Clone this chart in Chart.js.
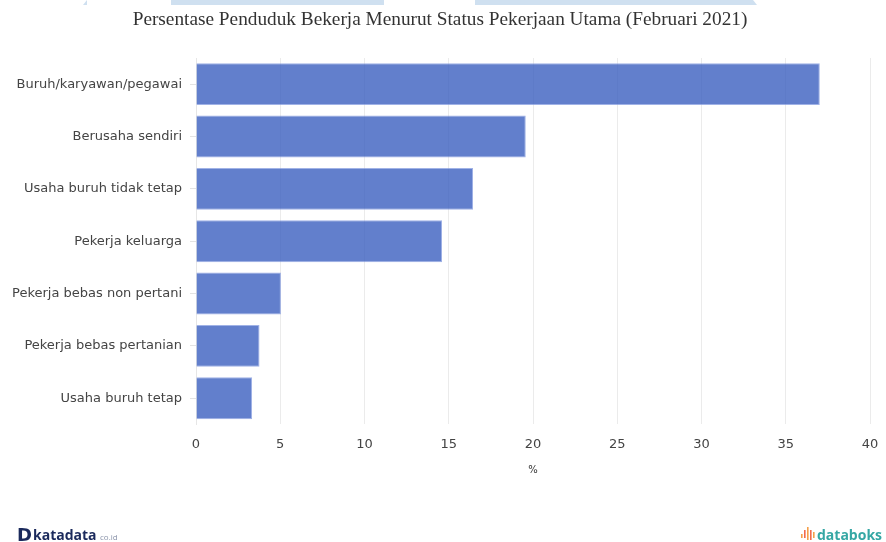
<!DOCTYPE html>
<html>
<head>
<meta charset="utf-8">
<script src="https://cdn.jsdelivr.net/npm/chart.js@4"></script>
<style>
  html, body { margin: 0; padding: 0; background: #fff; }
  #wrap { width: 886px; height: 542px; position: relative; }
</style>
</head>
<body>
<div id="wrap"><canvas id="c" width="886" height="542"></canvas></div>
<script>
const categories = [
  "Buruh/karyawan/pegawai",
  "Berusaha sendiri",
  "Usaha buruh tidak tetap",
  "Pekerja keluarga",
  "Pekerja bebas non pertani",
  "Pekerja bebas pertanian",
  "Usaha buruh tetap"
];
const values = [37.02, 19.57, 16.44, 14.6, 5.04, 3.77, 3.33];
const xTicks = [0, 5, 10, 15, 20, 25, 30, 35, 40];
const titleText = "Persentase Penduduk Bekerja Menurut Status Pekerjaan Utama (Februari 2021)";
const xAxisTitle = "%";

const decor = {
  id: 'decor',
  beforeDraw(chart) {
    const ctx = chart.ctx;
    ctx.save();
    ctx.fillStyle = '#fff';
    ctx.fillRect(0, 0, chart.width, chart.height);
    ctx.fillStyle = '#cfe0f0';
    ctx.beginPath();
    ctx.moveTo(83, 5); ctx.lineTo(87, 0); ctx.lineTo(87, 5); ctx.closePath(); ctx.fill();
    ctx.fillRect(171, 0, 213, 5);
    ctx.beginPath();
    ctx.moveTo(475, 0); ctx.lineTo(753, 0); ctx.lineTo(757, 5); ctx.lineTo(475, 5); ctx.closePath(); ctx.fill();
    ctx.restore();
  },
  afterDraw(chart) {
    const ctx = chart.ctx;
    ctx.save();
    ctx.fillStyle = '#333';
    ctx.font = '19.3px "Liberation Serif", serif';
    ctx.textAlign = 'center';
    ctx.textBaseline = 'middle';
    ctx.fillText(titleText, 440, 20);
    // katadata logo
    ctx.textAlign = 'left';
    ctx.textBaseline = 'alphabetic';
    ctx.fillStyle = '#1b2a5c';
    ctx.font = 'bold 18px "DejaVu Sans", sans-serif';
    ctx.fillText('D', 17, 541);
    ctx.font = 'bold 14px "Open Sans", sans-serif';
    ctx.fillText('katadata', 33, 540);
    ctx.fillStyle = '#8a93aa';
    ctx.font = '8px "Open Sans", sans-serif';
    ctx.fillText('co.id', 100, 540);
    // databoks logo
    const bars = [[801, 534, 4], [804, 530, 8], [807, 527, 13], [810, 530, 10], [813, 532, 6]];
    bars.forEach((b, i) => {
      ctx.fillStyle = i % 2 ? '#f26b4f' : '#f5a04a';
      ctx.fillRect(b[0], b[1], 1.6, b[2]);
    });
    ctx.fillStyle = '#35a7a4';
    ctx.font = 'bold 14px "Open Sans", sans-serif';
    ctx.fillText('databoks', 817, 540);
    ctx.restore();
  }
};

new Chart(document.getElementById('c'), {
  type: 'bar',
  data: {
    labels: categories,
    datasets: [{
      data: values,
      backgroundColor: 'rgba(59,95,191,0.8)',
      borderColor: 'rgba(120,145,220,0.7)',
      borderWidth: 1,
      barPercentage: 1,
      categoryPercentage: 0.8
    }]
  },
  options: {
    indexAxis: 'y',
    responsive: false,
    animation: false,
    layout: { padding: { top: 58, left: 0, right: 0, bottom: 66 } },
    plugins: { legend: { display: false }, tooltip: { enabled: false }, title: { display: false } },
    scales: {
      x: {
        min: 0, max: 40,
        afterBuildTicks(scale) { scale.ticks = xTicks.map(v => ({ value: v })); },
        afterFit(scale) { scale.paddingRight = 16; },
        grid: { color: '#ebebeb', drawTicks: false, lineWidth: 1 },
        border: { display: false },
        ticks: { padding: 12, color: '#444', font: { family: '"DejaVu Sans", sans-serif', size: 13 } },
        title: { display: true, text: xAxisTitle, color: '#333', padding: { top: 0, bottom: 0 }, font: { family: '"DejaVu Sans", sans-serif', size: 10 } }
      },
      y: {
        afterFit(scale) { scale.width = 196; },
        grid: { drawOnChartArea: false, drawTicks: true, tickLength: 6, offset: false, color: '#e3e3e3' },
        border: { display: true, color: '#e6e6e6' },
        ticks: { padding: 8, color: '#444', font: { family: '"DejaVu Sans", sans-serif', size: 13 } }
      }
    }
  },
  plugins: [decor]
});
</script>
</body>
</html>
